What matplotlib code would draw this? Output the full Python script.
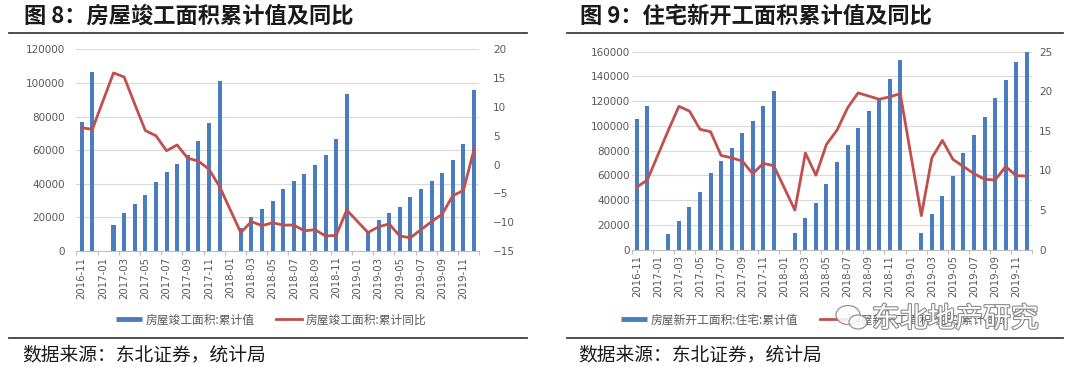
import numpy as np
import matplotlib
matplotlib.use("Agg")
import matplotlib.pyplot as plt
from matplotlib.lines import Line2D
from matplotlib.patches import Ellipse
import matplotlib.patheffects as pe

plt.rcParams['font.family'] = ['Noto Sans CJK SC', 'DejaVu Sans']

nan = np.nan
months = ["2016-11", "2016-12",
          "2017-01", "2017-02", "2017-03", "2017-04", "2017-05", "2017-06",
          "2017-07", "2017-08", "2017-09", "2017-10", "2017-11", "2017-12",
          "2018-01", "2018-02", "2018-03", "2018-04", "2018-05", "2018-06",
          "2018-07", "2018-08", "2018-09", "2018-10", "2018-11", "2018-12",
          "2019-01", "2019-02", "2019-03", "2019-04", "2019-05", "2019-06",
          "2019-07", "2019-08", "2019-09", "2019-10", "2019-11", "2019-12"]

# Figure 8: completed floor area (cumulative) and YoY
completed_cum = [77000, 106200,
                 nan, 15700, 22800, 28000, 33500, 41300, 46800, 52000, 57300, 65400, 76000, 101300,
                 nan, 13500, 20400, 25000, 30000, 37000, 41800, 46000, 51000, 57100, 66900, 93600,
                 nan, 11500, 18300, 22400, 26400, 32200, 37100, 41500, 46600, 54200, 63700, 96000]
completed_yoy = [6.4, 6.1,
                 nan, 15.9, 15.2, 10.5, 5.9, 5.0, 2.4, 3.4, 1.1, 0.6, -0.8, -3.8,
                 nan, -11.8, -9.9, -10.6, -10.1, -10.5, -10.5, -11.5, -11.3, -12.4, -12.3, -7.9,
                 nan, -11.8, -10.8, -10.3, -12.4, -12.7, -11.3, -9.9, -8.6, -5.4, -4.5, 2.6]

# Figure 9: residential new starts (cumulative) and YoY
starts_cum = [105300, 116100,
              nan, 12400, 23000, 34600, 47000, 61600, 71900, 82300, 94000, 104200, 116100, 128500,
              nan, 13200, 25600, 38100, 52900, 70600, 84900, 98000, 112200, 122800, 138300, 153300,
              nan, 13700, 28800, 43400, 59300, 77900, 92500, 107400, 122300, 137000, 151900, 160400]
starts_yoy = [7.9, 8.8,
              nan, 15.1, 18.1, 17.5, 15.2, 14.9, 11.9, 11.6, 11.2, 9.6, 10.9, 10.6,
              nan, 5.0, 12.2, 9.4, 13.3, 15.1, 17.9, 19.8, 19.4, 19.0, 19.3, 19.7,
              nan, 4.3, 11.6, 13.8, 11.4, 10.5, 9.6, 8.9, 8.8, 10.5, 9.35, 9.3]

titles = ["图 8：房屋竣工面积累计值及同比", "图 9：住宅新开工面积累计值及同比"]
bar_labels = ["房屋竣工面积:累计值", "房屋新开工面积:住宅:累计值"]
line_labels = ["房屋竣工面积:累计同比", "房屋新开工面积:住宅:累计同比"]
source_text = "数据来源：东北证券，统计局"
watermark = "东北地产研究"

left_ticks = [[0, 20000, 40000, 60000, 80000, 100000, 120000],
              [0, 20000, 40000, 60000, 80000, 100000, 120000, 140000, 160000]]
right_ticks = [[-15, -10, -5, 0, 5, 10, 15, 20], [0, 5, 10, 15, 20, 25]]

BLUE = "#4A7DC0"
RED = "#C0504D"
GRID = "#D9D9D9"
TXT = "#595959"

W, H = 1080, 367
fig = plt.figure(figsize=(W / 100, H / 100), dpi=100)


def fx(px):
    return px / W


def fy(py):
    return 1 - py / H


axes_px = [(76.4, 479.3, 49.3, 251.0), (631.5, 1032.0, 51.7, 249.7)]
bars_data = [completed_cum, starts_cum]
lines_data = [completed_yoy, starts_yoy]
lpads = [8, 1]
rpads = [10, 5]

x = np.arange(len(months))
for k in range(2):
    x0, x1, yt, yb = axes_px[k]
    ax = fig.add_axes([fx(x0), fy(yb), fx(x1 - x0), (yb - yt) / H])
    bv = np.array(bars_data[k], dtype=float)
    ax.bar(x, bv, width=0.38, color=BLUE, zorder=2)
    ax.set_xlim(-0.5, len(months) - 0.5)
    ax.set_ylim(left_ticks[k][0], left_ticks[k][-1])
    ax.set_yticks(left_ticks[k])
    ax.yaxis.grid(True, color=GRID, lw=0.8, zorder=0)
    ax.set_axisbelow(True)
    for s in ["top", "right", "left"]:
        ax.spines[s].set_visible(False)
    ax.spines["bottom"].set_color("#BFBFBF")
    ax.spines["bottom"].set_linewidth(0.8)
    ax.set_xticks(x[::2])
    ax.set_xticklabels(months[::2], rotation=90, fontsize=7.3, color=TXT,
                       family="DejaVu Sans")
    ax.set_xticks(np.arange(-0.5, len(months), 2), minor=True)
    ax.tick_params(axis="x", which="major", length=0, pad=4)
    ax.tick_params(axis="x", which="minor", length=3, color="#BFBFBF", width=0.8)
    ax.tick_params(axis="y", length=0, pad=lpads[k], labelsize=7.5, labelcolor=TXT)
    for t in ax.get_yticklabels():
        t.set_family("DejaVu Sans")

    ax2 = ax.twinx()
    lv = np.array(lines_data[k], dtype=float)
    m = ~np.isnan(lv)
    ax2.plot(x[m], lv[m], color=RED, lw=2.0, zorder=3)
    ax2.set_ylim(right_ticks[k][0], right_ticks[k][-1])
    ax2.set_yticks(right_ticks[k])
    for s in ["top", "right", "left", "bottom"]:
        ax2.spines[s].set_visible(False)
    ax2.tick_params(axis="y", length=0, pad=rpads[k], labelsize=7.5, labelcolor=TXT)
    for t in ax2.get_yticklabels():
        t.set_family("DejaVu Sans")

    handles = [Line2D([], [], color=BLUE, lw=3.5, solid_capstyle="butt"),
               Line2D([], [], color=RED, lw=2.0)]
    cx = [271, 815][k]
    fig.legend(handles, [bar_labels[k], line_labels[k]], loc="center",
               bbox_to_anchor=(fx(cx), fy(320)), ncol=2, frameon=False,
               fontsize=8.5, labelcolor=TXT, handlelength=2.2,
               handletextpad=0.3, columnspacing=1.8)

# titles, rules, footers
panels = [(8.6, 527, 24, 22), (567.5, 1063, 580, 578)]
for k, (lx0, lx1, tx, sx) in enumerate(panels):
    fig.text(fx(tx), fy(16), titles[k], fontsize=16, fontweight="bold",
             color="#1a1a1a", va="center", ha="left")
    fig.add_artist(Line2D([fx(lx0), fx(lx1)], [fy(33), fy(33)], color="#404040", lw=1.3))
    fig.add_artist(Line2D([fx(lx0), fx(lx1)], [fy(338), fy(338)], color="#404040", lw=1.3))
    fig.text(fx(sx), fy(355), source_text, fontsize=13.5, color="#1a1a1a",
             va="center", ha="left")

# watermark (WeChat-style icon drawn as two bubbles, then the account name)
for (cxp, cyp, w, h) in [(848, 315, 0.24, 0.19), (858, 322, 0.18, 0.14)]:
    fig.add_artist(Ellipse((cxp / 100, (H - cyp) / 100), w, h,
                           transform=fig.dpi_scale_trans, facecolor="white",
                           edgecolor="#8a8a8a", lw=1.0, alpha=0.85, zorder=9))
fig.text(fx(872), fy(319), watermark, fontsize=20, color="white", va="center",
         ha="left", zorder=10,
         path_effects=[pe.withStroke(linewidth=1.6, foreground="#8a8a8a")])

fig.savefig("out.png", dpi=100, facecolor="white")
